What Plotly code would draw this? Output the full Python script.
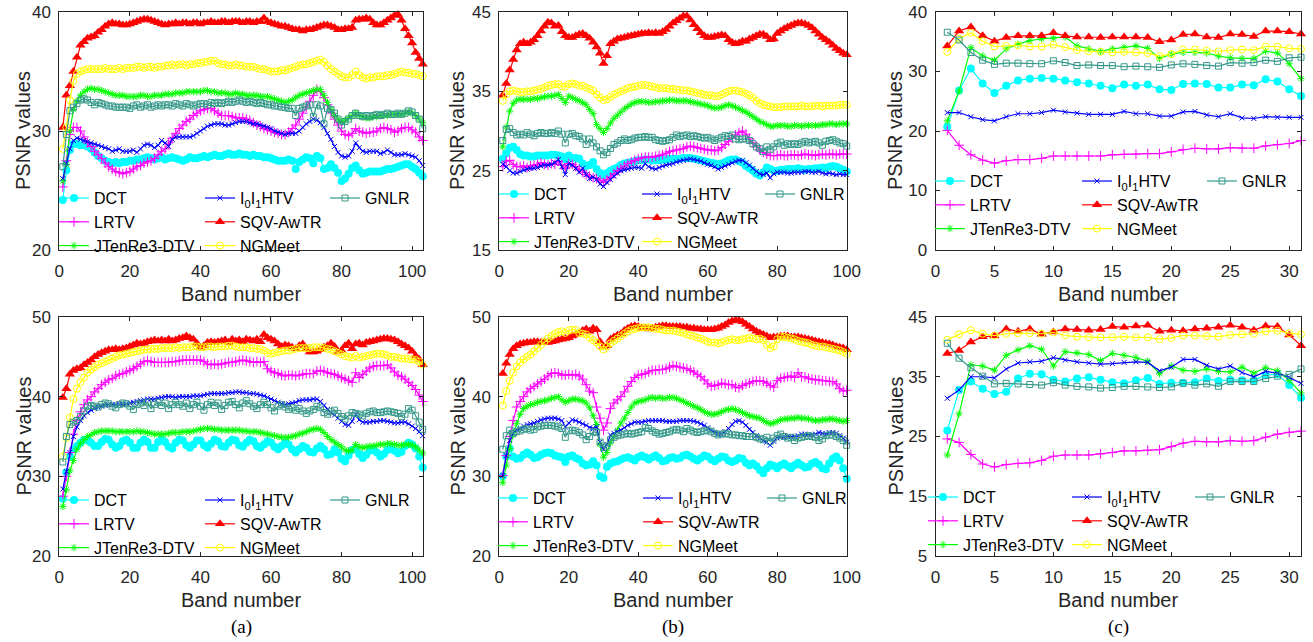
import plotly.graph_objects as go

W, H = 1313, 642

# ---------------- data (PSNR per band) ----------------
bands_103 = list(range(1, 104))
bands_100 = list(range(1, 101))
bands_31 = list(range(1, 32))

# panel (a) top
a1_dct = [24.2, 26.7, 28.4, 28.9, 28.9, 28.8, 28.8, 28.7, 28.5, 28.2,
          27.9, 27.7, 27.5, 27.4, 27.3, 27.4, 27.3, 27.4, 27.4, 27.5,
          27.5, 27.6, 27.6, 27.7, 27.8, 27.7, 27.6, 27.7, 27.8, 27.6,
          27.7, 27.8, 27.7, 27.6, 27.5, 27.6, 27.8, 27.7, 27.7, 27.8,
          27.9, 27.8, 27.9, 28.0, 27.9, 27.9, 28.0, 28.1, 28.0, 28.0,
          28.1, 28.0, 28.0, 27.9, 28.0, 27.9, 27.9, 27.8, 27.8, 27.7,
          27.6, 27.5, 27.5, 27.5, 27.6, 27.5, 26.8, 27.4, 27.6, 27.8,
          27.7, 27.3, 27.9, 27.7, 26.8, 26.9, 27.2, 26.9, 26.5, 25.8,
          26.0, 26.4, 26.9, 27.1, 26.7, 26.4, 26.5, 26.6, 26.6, 26.6,
          26.6, 26.7, 26.8, 26.8, 26.9, 27.0, 27.1, 27.2, 27.2, 27.0,
          26.8, 26.5, 26.2]
a1_lrtv = [25.3, 27.5, 29.7, 30.3, 30.3, 30.0, 29.5, 29.0, 28.7, 28.3,
           28.0, 27.7, 27.3, 27.0, 26.8, 26.6, 26.5, 26.4, 26.5, 26.6,
           26.8, 27.0, 27.1, 27.3, 27.4, 27.5, 27.7, 28.0, 28.3, 28.5,
           29.0, 29.4, 29.8, 30.2, 30.5, 30.8, 31.0, 31.3, 31.5, 31.7,
           31.8, 31.9, 31.9, 31.7, 31.5, 31.3, 31.3, 31.3, 31.2, 31.1,
           31.1, 31.1, 31.0, 30.9, 30.7, 30.5, 30.4, 30.2, 30.1, 30.0,
           29.9, 29.8, 29.7, 29.7, 29.9, 30.2, 30.5, 31.0, 31.5, 32.0,
           32.5, 33.0, 33.5, 33.3, 32.8, 32.2, 31.5, 31.0, 30.5, 30.0,
           29.7, 29.6, 29.8, 30.2, 30.0, 29.9, 29.8, 29.9, 29.9, 30.0,
           30.2, 30.3, 30.2, 30.1, 29.9, 30.0, 30.2, 30.3, 30.3, 30.1,
           29.9, 29.5, 29.2]
a1_jt = [25.8, 27.2, 30.0, 31.8, 32.5, 33.0, 33.3, 33.5, 33.6, 33.5,
         33.5, 33.4, 33.3, 33.2, 33.1, 33.0, 33.0, 33.0, 32.9, 32.9,
         32.9, 32.9, 33.0, 33.0, 32.9, 32.9, 33.0, 33.0, 33.0, 33.1,
         33.1, 33.1, 33.2, 33.2, 33.2, 33.3, 33.3, 33.3, 33.3, 33.3,
         33.4, 33.4, 33.3, 33.3, 33.2, 33.2, 33.2, 33.1, 33.1, 33.2,
         33.1, 33.1, 33.0, 33.0, 33.0, 33.0, 32.9, 32.9, 32.9, 32.8,
         32.7, 32.6, 32.5, 32.4, 32.5, 32.6, 32.8, 33.0, 33.1, 33.2,
         33.3, 33.4, 33.5, 33.5, 33.0, 32.4, 31.8, 31.3, 31.0, 30.8,
         30.9, 31.1, 31.3, 31.5, 31.3, 31.2, 31.1, 31.1, 31.2, 31.2,
         31.3, 31.3, 31.3, 31.4, 31.4, 31.4, 31.4, 31.5, 31.6, 31.5,
         31.3, 31.0, 30.7]
a1_htv = [26.0, 27.3, 28.5, 29.2, 29.4, 29.3, 29.2, 29.1, 29.0, 28.9,
          28.8, 28.7, 28.6, 28.5, 28.3, 28.4, 28.5, 28.3, 28.3, 28.3,
          28.4, 28.2, 28.5, 28.8, 28.9, 28.8, 28.6, 28.8, 29.2, 29.0,
          28.7, 29.3, 29.5, 29.5, 29.5, 29.5, 29.5, 29.6, 29.8, 30.0,
          30.2, 30.4, 30.5, 30.6, 30.6, 30.6, 30.5, 30.5, 30.6, 30.7,
          30.8, 30.8, 30.8, 30.7, 30.6, 30.6, 30.5, 30.4, 30.3, 30.2,
          30.0, 29.9, 29.8, 29.7, 29.8, 29.8, 29.8, 30.0, 30.3, 30.6,
          30.8, 31.0, 30.9, 30.7, 30.3, 29.8, 29.3, 28.7, 28.2, 27.9,
          27.8, 27.9, 28.3, 29.0, 28.6, 28.3, 28.2, 28.3, 28.3, 28.3,
          28.1, 28.2, 28.4, 28.2, 28.0, 28.0, 28.0, 28.1, 28.0, 27.9,
          27.8, 27.5, 27.1]
a1_sqv = [30.3, 33.0, 33.8, 35.0, 36.2, 37.2, 37.5, 37.8, 37.9, 38.0,
          38.3, 38.5, 38.8, 39.0, 39.1, 39.0, 39.0, 38.9, 38.9, 39.0,
          39.1, 39.2, 39.3, 39.4, 39.4, 39.3, 39.2, 39.1, 39.0, 38.9,
          39.0, 39.0, 39.1, 39.0, 39.1, 39.1, 39.0, 39.1, 39.1, 39.0,
          39.1, 39.1, 39.2, 39.1, 39.1, 39.2, 39.2, 39.1, 39.2, 39.2,
          39.2, 39.1, 39.2, 39.2, 39.1, 39.2, 39.2, 39.5, 39.2, 39.1,
          39.0, 38.9, 38.8, 38.8, 38.7, 38.6, 38.5, 38.5, 38.4, 38.5,
          38.5, 38.6, 38.7, 38.8, 38.9, 38.9, 38.8, 38.7, 38.5, 38.5,
          38.6, 38.6, 38.7, 39.3, 39.4, 39.4, 39.5, 39.4, 39.1, 38.9,
          38.9, 39.1, 39.3, 39.5, 39.7, 39.8, 39.3, 38.6, 38.0, 37.4,
          36.6, 36.1, 35.6]
a1_ngm = [28.5, 30.3, 32.6, 34.2, 34.8, 35.0, 35.1, 35.2, 35.2, 35.2,
          35.2, 35.2, 35.3, 35.2, 35.2, 35.2, 35.3, 35.2, 35.3, 35.3,
          35.3, 35.4, 35.4, 35.3, 35.4, 35.4, 35.3, 35.4, 35.4, 35.5,
          35.5, 35.6, 35.5, 35.6, 35.6, 35.5, 35.6, 35.6, 35.7, 35.7,
          35.8, 35.8, 35.9, 35.9, 35.7, 35.6, 35.6, 35.5, 35.5, 35.6,
          35.5, 35.5, 35.4, 35.4, 35.4, 35.3, 35.2, 35.2, 35.1, 35.0,
          35.0, 35.0, 35.1, 35.1, 35.2, 35.3, 35.4, 35.5, 35.6, 35.6,
          35.7, 35.8, 35.9, 36.0, 35.8, 35.5, 35.2, 35.0, 34.8, 34.6,
          34.5, 34.5, 34.7, 35.0, 34.7, 34.5, 34.4, 34.5, 34.5, 34.6,
          34.6, 34.6, 34.7, 34.7, 34.8, 34.9, 35.0, 34.9, 34.9, 34.8,
          34.8, 34.7, 34.6]
a1_gnlr = [27.0, 29.7, 31.7, 32.0, 32.3, 32.6, 32.7, 32.6, 32.4, 32.2,
           32.4, 32.3, 32.2, 32.1, 32.1, 32.0, 32.0, 32.0, 32.0, 31.9,
           32.1, 32.2, 32.0, 32.1, 32.2, 32.0, 32.1, 32.2, 32.1, 32.2,
           32.2, 32.1, 32.3, 32.2, 32.1, 32.3, 32.2, 32.1, 32.2, 32.3,
           32.3, 32.2, 32.4, 32.3, 32.4, 32.3, 32.4, 32.5, 32.4, 32.5,
           32.6, 32.5, 32.4, 32.5, 32.4, 32.3, 32.4, 32.3, 32.2, 32.2,
           32.1, 32.1, 32.0, 32.0, 31.9, 31.9, 31.3, 31.9, 32.0, 32.1,
           32.2, 31.2, 32.2, 32.1, 30.6, 31.9, 31.8, 31.5, 31.0, 30.5,
           30.8, 31.0, 31.3, 31.5, 31.3, 31.2, 31.3, 31.2, 31.3, 31.4,
           31.3, 31.4, 31.5, 31.4, 31.4, 31.5, 31.4, 31.5, 31.7, 31.6,
           31.3, 31.0, 30.2]

# panel (b) top
b1_dct = [26.5, 27.2, 27.9, 28.0, 27.6, 27.1, 26.9, 26.9, 26.8, 26.8,
          26.9, 26.9, 26.9, 26.9, 27.0, 27.0, 26.9, 26.8, 26.4, 26.9,
          26.6, 26.6, 26.5, 25.9, 25.6, 25.7, 26.1, 25.2, 24.7, 24.4,
          24.7, 25.0, 25.2, 25.4, 25.7, 25.9, 26.0, 26.1, 26.2, 26.3,
          26.3, 26.4, 26.4, 26.3, 26.3, 26.3, 26.4, 26.4, 26.5, 26.5,
          26.5, 26.5, 26.6, 26.6, 26.6, 26.5, 26.4, 26.3, 26.2, 26.1,
          26.0, 25.9, 25.8, 25.9, 26.1, 26.3, 26.4, 26.4, 26.2, 26.0,
          25.6, 25.3, 25.0, 24.6, 24.4, 24.8, 25.4, 25.2, 25.0, 25.0,
          25.1, 25.1, 25.2, 25.2, 25.2, 25.3, 25.2, 25.1, 25.2, 25.2,
          25.3, 25.3, 25.4, 25.3, 25.5, 25.6, 25.5, 25.3, 25.1, 24.9]
b1_lrtv = [25.5, 26.2, 26.3, 25.8, 25.5, 25.5, 25.6, 25.4, 25.6, 25.7,
           25.8, 26.0, 25.8, 25.7, 25.9, 25.8, 26.2, 25.7, 25.3, 25.9,
           25.8, 25.5, 25.2, 24.8, 24.5, 24.3, 24.1, 24.0, 23.8, 23.5,
           23.9, 24.2, 24.6, 25.0, 25.3, 25.6, 25.9, 26.1, 26.3, 26.5,
           26.6, 26.7, 26.7, 26.7, 26.8, 26.9, 27.0, 27.2, 27.4, 27.5,
           27.6, 27.7, 27.8, 28.0, 28.1, 28.0, 27.9, 27.8, 27.7, 27.6,
           27.6, 27.5, 27.6, 27.9, 28.3, 28.7, 29.1, 29.5, 29.8, 30.0,
           29.6, 29.0, 28.5, 28.0, 27.6, 27.3, 27.1, 26.9, 26.9, 26.9,
           27.0, 26.9, 26.9, 27.0, 27.0, 26.9, 27.0, 27.1, 27.0, 27.0,
           26.9, 27.0, 27.1, 27.0, 27.1, 27.1, 27.0, 27.1, 27.1, 27.1]
b1_jt = [28.0, 30.5, 32.5, 33.5, 33.9, 34.0, 34.0, 34.0, 34.0, 34.1,
         34.1, 34.2, 34.3, 34.4, 34.4, 34.5, 34.6, 34.1, 33.6, 34.4,
         34.2, 34.0, 33.8, 33.6, 33.3, 32.7, 32.2, 30.8, 30.3, 29.8,
         30.3, 31.0, 31.6, 32.0, 32.4, 32.8, 33.1, 33.4, 33.6, 33.7,
         33.7, 33.7, 33.6, 33.6, 33.7, 33.7, 33.8, 33.8, 33.9, 33.9,
         33.8, 33.8, 33.8, 33.8, 33.7, 33.6, 33.5, 33.4, 33.3, 33.2,
         33.0, 32.9, 32.9, 33.0, 33.2, 33.3, 33.2, 33.0, 32.8, 32.6,
         32.4, 32.1, 31.8, 31.5, 31.2, 31.0, 30.8, 30.6, 30.6, 30.7,
         30.7, 30.7, 30.6, 30.6, 30.7, 30.7, 30.6, 30.7, 30.7, 30.7,
         30.7, 30.7, 30.8, 30.8, 30.9, 30.9, 30.8, 30.9, 30.9, 30.9]
b1_htv = [25.8, 25.5, 25.0, 24.7, 24.7, 24.9, 25.1, 25.2, 25.3, 25.3,
          25.4, 25.6, 25.7, 25.7, 25.8, 26.0, 26.4, 25.5, 24.5, 25.9,
          25.7, 25.3, 24.8, 25.3, 24.5, 24.0, 24.2, 23.9, 23.3, 23.0,
          23.5, 23.9, 24.3, 24.7, 25.0, 25.1, 25.2, 25.3, 25.4, 25.4,
          25.3, 25.9, 25.5, 25.3, 25.2, 25.4, 25.6, 25.7, 25.8, 25.9,
          26.1, 26.2, 26.3, 26.4, 26.5, 26.4, 26.3, 26.2, 26.0, 25.8,
          25.7, 25.5, 25.2, 25.4, 25.6, 25.8, 26.0, 26.2, 26.3, 26.3,
          26.0, 25.7, 25.3, 24.9, 24.6, 24.5, 24.7, 24.1, 24.6, 24.8,
          24.8, 24.8, 24.7, 24.7, 24.8, 24.8, 24.8, 24.9, 24.9, 24.8,
          24.8, 24.9, 24.7, 24.6, 24.7, 24.6, 24.5, 24.6, 24.5, 24.5]
b1_sqv = [34.5, 36.0, 37.7, 39.0, 40.2, 41.0, 41.2, 41.0, 41.2, 41.5,
          42.0, 42.6, 43.2, 43.7, 43.6, 43.2, 43.3, 42.5, 42.0, 41.8,
          41.8, 42.0, 42.2, 42.3, 42.0, 41.7, 41.2, 40.6, 39.8, 38.5,
          39.5, 41.0, 41.3, 41.6, 41.7, 41.8, 41.9, 42.0, 42.1, 42.2,
          42.3, 42.3, 42.4, 42.3, 42.4, 42.3, 42.5, 42.8, 43.2, 43.6,
          43.9, 44.2, 44.5, 44.5, 44.0, 43.4, 42.9, 42.4, 42.0, 41.8,
          41.8, 41.9, 42.0, 42.1, 42.0, 41.5, 41.2, 41.0, 41.1, 41.3,
          41.3, 41.6, 41.8, 42.0, 42.2, 42.2, 41.9, 41.5, 41.6, 42.3,
          42.6, 42.9, 43.1, 43.3, 43.5, 43.6, 43.6, 43.5, 43.3, 43.0,
          42.6, 42.2, 41.8, 41.5, 41.2, 40.8, 40.4, 40.1, 39.8, 39.6]
b1_ngm = [33.8, 34.6, 35.0, 35.1, 35.0, 34.9, 34.9, 35.0, 35.0, 35.1,
          35.2, 35.3, 35.5, 35.7, 35.8, 35.9, 35.9, 35.6, 35.6, 35.9,
          36.0, 35.9, 35.7, 35.7, 35.5, 35.3, 35.1, 34.6, 34.2, 33.9,
          34.0, 34.3, 34.6, 34.8, 35.0, 35.2, 35.4, 35.5, 35.6, 35.7,
          35.8, 35.8, 35.7, 35.6, 35.5, 35.4, 35.4, 35.4, 35.3, 35.3,
          35.2, 35.2, 35.1, 35.1, 35.0, 34.9, 34.8, 34.7, 34.6, 34.5,
          34.5, 34.4, 34.4, 34.6, 34.8, 35.0, 35.1, 35.1, 35.0, 34.9,
          34.7, 34.5, 34.2, 33.8, 33.5, 33.3, 33.2, 33.1, 33.0, 33.0,
          33.0, 33.1, 33.1, 33.1, 33.1, 33.1, 33.2, 33.1, 33.1, 33.1,
          33.2, 33.2, 33.1, 33.2, 33.2, 33.2, 33.2, 33.3, 33.3, 33.3]
b1_gnlr = [28.8, 30.2, 30.3, 29.8, 29.5, 29.6, 29.5, 29.8, 29.6, 29.4,
           29.7, 29.8, 29.7, 29.7, 29.8, 29.7, 30.0, 29.6, 28.5, 29.6,
           29.7, 29.4, 29.3, 29.0, 28.3, 29.0, 28.5, 28.0, 27.5, 27.0,
           27.3, 27.8, 28.3, 28.5, 28.8, 29.0, 28.8, 28.9, 29.1, 29.2,
           29.2, 29.3, 29.2, 29.2, 28.9, 28.8, 28.7, 28.8, 28.9, 29.2,
           29.5, 29.3, 29.4, 29.5, 29.3, 29.4, 29.3, 29.2, 29.1, 29.2,
           29.0, 28.8, 29.0, 29.2, 29.4, 29.3, 29.5, 29.0, 28.9, 29.0,
           29.0, 28.8, 28.4, 28.0, 27.8, 27.4, 28.0, 27.7, 28.0, 28.4,
           28.6, 28.2, 28.4, 28.3, 28.4, 28.3, 28.5, 28.7, 28.5, 28.6,
           28.7, 28.5, 28.2, 28.7, 28.8, 28.9, 28.7, 28.5, 28.4, 28.1]

# panel (c) top
c1_dct = [20.7, 26.8, 30.5, 28.0, 26.4, 27.6, 28.5, 28.8, 28.9, 28.8, 28.5, 28.2, 28.0, 27.6, 27.2, 27.8,
          27.6, 27.8, 27.0, 26.9, 27.9, 28.0, 27.9, 27.3, 27.3, 27.8, 27.7, 28.7, 28.3, 27.0, 25.9]
c1_lrtv = [20.1, 17.6, 16.0, 15.1, 14.6, 15.0, 15.2, 15.2, 15.4, 15.8, 15.8, 15.8, 15.8, 15.8, 16.0, 16.1,
           16.1, 16.2, 16.2, 16.5, 16.9, 17.1, 17.0, 17.0, 17.2, 17.1, 17.1, 17.5, 17.7, 17.9, 18.4]
c1_jt = [21.7, 26.7, 34.0, 32.6, 31.9, 33.8, 34.6, 35.2, 35.5, 35.6, 35.8, 34.3, 33.8, 33.4, 33.8, 34.1,
         34.3, 33.9, 32.2, 32.9, 33.2, 33.2, 33.1, 32.6, 32.3, 32.2, 32.2, 33.4, 33.1, 31.3, 28.8]
c1_htv = [23.1, 23.1, 22.4, 21.9, 21.7, 22.4, 22.9, 22.9, 23.1, 23.5, 23.2, 23.0, 22.8, 22.8, 22.8, 23.3,
          22.9, 22.9, 22.5, 22.5, 23.2, 23.3, 22.7, 22.4, 22.9, 22.2, 22.1, 22.4, 22.3, 22.3, 22.3]
c1_sqv = [34.3, 36.8, 37.5, 36.0, 35.1, 35.7, 36.0, 36.0, 36.0, 36.5, 36.0, 35.8, 35.8, 35.7, 35.8, 35.8,
          35.8, 35.7, 35.0, 35.3, 36.2, 36.3, 35.8, 35.7, 36.3, 36.2, 35.9, 36.8, 36.8, 36.7, 36.3]
c1_ngm = [33.3, 35.5, 36.5, 35.1, 34.2, 34.3, 34.4, 34.2, 34.2, 34.5, 34.1, 33.6, 33.4, 33.3, 33.2, 33.3,
          33.2, 33.1, 32.6, 32.9, 33.7, 33.7, 33.5, 33.4, 33.6, 33.7, 33.6, 34.2, 34.2, 33.9, 33.8]
c1_gnlr = [36.6, 35.3, 33.2, 31.9, 31.2, 31.4, 31.4, 31.3, 31.3, 31.8, 31.5, 31.0, 31.1, 31.0, 31.0, 30.8,
           30.9, 30.8, 30.7, 31.1, 31.3, 31.2, 31.0, 30.9, 31.5, 31.4, 31.5, 31.9, 31.7, 32.3, 32.4]

# panel (a) bottom
a2_dct = [27.2, 30.5, 32.5, 33.4, 33.8, 34.2, 34.6, 34.5, 34.2, 33.8,
          33.8, 34.3, 34.7, 34.6, 34.0, 33.6, 33.8, 34.4, 34.6, 34.2,
          33.6, 33.6, 34.2, 34.6, 34.3, 33.6, 33.6, 34.3, 34.6, 34.3,
          33.7, 33.5, 34.2, 34.6, 34.5, 33.9, 33.6, 34.0, 34.5, 34.5,
          33.9, 33.6, 34.1, 34.6, 34.4, 33.8, 33.7, 34.2, 34.6, 34.5,
          33.9, 33.7, 34.2, 34.6, 34.4, 33.8, 33.6, 34.0, 34.4, 34.2,
          33.7, 33.4, 33.8, 34.2, 34.0, 33.4, 33.0, 33.4, 33.8, 33.6,
          33.1, 33.0, 33.5, 33.8, 33.4, 32.7, 32.8, 33.4, 33.0, 32.2,
          31.9, 32.6, 33.3, 33.5, 32.8, 32.3, 32.7, 33.2, 33.4, 33.0,
          32.5, 32.8, 33.3, 33.5, 33.2, 32.9, 33.1, 33.8, 34.2, 34.0,
          33.5, 32.5, 31.1]
a2_lrtv = [27.5, 30.0, 33.0, 35.3, 37.0, 38.1, 39.0, 39.6, 40.0, 40.6,
           41.0, 41.5, 41.8, 42.1, 42.3, 42.6, 42.8, 42.9, 43.1, 43.3,
           43.5, 43.8, 44.1, 44.4, 44.5, 44.4, 44.3, 44.3, 44.3, 44.3,
           44.3, 44.4, 44.4, 44.5, 44.6, 44.6, 44.6, 44.6, 44.6, 44.6,
           44.4, 44.1, 44.0, 44.1, 44.0, 44.1, 44.2, 44.3, 44.3, 44.4,
           44.5, 44.6, 44.5, 44.4, 44.3, 44.4, 44.3, 44.4, 43.5, 43.2,
           43.0, 42.9, 42.7, 42.6, 42.7, 42.7, 42.6, 42.7, 42.8, 42.9,
           42.9, 42.9, 43.2, 43.3, 43.2, 43.0, 42.9, 42.8, 42.6, 42.4,
           42.2, 42.0, 41.8, 43.0, 42.4, 42.8, 43.2, 43.6, 43.8, 43.9,
           43.9, 43.9, 44.0, 43.6, 43.1, 42.7, 42.5, 42.2, 41.8, 41.4,
           40.9, 40.2, 39.4]
a2_jt = [26.2, 28.3, 30.7, 32.0, 33.4, 34.1, 34.6, 35.0, 35.2, 35.5,
         35.6, 35.7, 35.7, 35.7, 35.7, 35.6, 35.6, 35.6, 35.6, 35.6,
         35.6, 35.7, 35.6, 35.6, 35.5, 35.4, 35.3, 35.3, 35.3, 35.3,
         35.4, 35.5, 35.5, 35.5, 35.6, 35.6, 35.6, 35.7, 35.8, 35.9,
         36.0, 36.0, 36.0, 35.9, 35.9, 35.8, 35.8, 35.8, 35.8, 35.8,
         35.8, 35.7, 35.7, 35.6, 35.6, 35.6, 35.5, 35.4, 35.3, 35.2,
         35.1, 35.0, 34.9, 34.9, 34.9, 35.0, 35.1, 35.3, 35.4, 35.6,
         35.8, 35.9, 36.0, 35.9, 35.5, 35.0, 34.6, 34.3, 34.0, 33.7,
         33.3, 33.2, 33.3, 34.0, 33.7, 33.6, 33.7, 33.8, 33.8, 33.9,
         34.0, 34.0, 34.1, 34.1, 34.0, 33.9, 33.9, 34.0, 34.0, 33.9,
         33.7, 33.3, 32.9]
a2_htv = [28.4, 30.6, 33.0, 35.0, 36.2, 37.0, 37.6, 38.0, 38.3, 38.5,
          38.7, 38.8, 38.9, 39.0, 39.0, 39.0, 39.0, 39.0, 39.1, 39.2,
          39.3, 39.4, 39.5, 39.6, 39.7, 39.7, 39.7, 39.8, 39.9, 40.0,
          40.0, 40.0, 39.9, 40.0, 40.0, 40.0, 40.0, 40.1, 40.1, 40.1,
          40.2, 40.3, 40.4, 40.4, 40.4, 40.4, 40.4, 40.5, 40.5, 40.6,
          40.6, 40.5, 40.5, 40.4, 40.4, 40.3, 40.2, 40.1, 39.9, 39.7,
          39.5, 39.3, 39.1, 39.0, 39.1, 39.2, 39.3, 39.5, 39.6, 39.6,
          39.6, 39.7, 39.7, 39.4, 38.9, 38.4, 38.0, 37.7, 37.3, 36.9,
          36.5, 36.4, 36.9, 37.8, 37.1, 36.8, 36.8, 36.8, 36.9, 36.9,
          37.0, 37.0, 36.9, 36.8, 36.7, 36.7, 36.8, 36.8, 36.6, 36.3,
          36.0, 35.6, 35.1]
a2_sqv = [39.9, 41.0, 42.8, 43.3, 43.5, 43.6, 44.0, 44.3, 44.6, 45.0,
          45.3, 45.5, 45.7, 45.9, 45.9, 46.0, 45.9, 46.0, 46.1, 46.3,
          46.5, 46.7, 46.6, 46.7, 46.9, 47.0, 47.1, 47.0, 47.1, 47.0,
          47.2, 47.0, 47.1, 47.3, 47.4, 47.6, 47.4, 47.2, 46.7, 46.2,
          46.4, 46.8, 46.9, 46.8, 46.9, 47.0, 47.1, 46.8, 47.2, 47.0,
          47.1, 46.9, 47.2, 47.1, 47.0, 47.2, 46.9, 47.8, 47.4, 47.2,
          47.0, 46.6, 46.3, 46.5, 46.4, 46.2, 46.0, 46.4, 46.6, 46.0,
          45.6, 45.6, 45.7, 45.9, 46.2, 46.4, 46.7, 46.3, 45.6, 45.8,
          46.4, 46.7, 46.0, 46.6, 46.7, 46.5, 46.8, 46.9, 47.0, 47.1,
          47.2, 47.3, 47.3, 47.2, 47.1, 46.9, 46.6, 46.4, 46.1, 45.7,
          45.1, 44.7, 44.0]
a2_ngm = [32.5, 34.8, 37.4, 39.7, 41.0, 41.8, 42.4, 43.0, 43.4, 43.7,
          44.0, 44.2, 44.4, 44.6, 44.8, 45.0, 45.2, 45.3, 45.4, 45.5,
          45.6, 45.7, 45.8, 45.9, 45.9, 46.0, 46.0, 46.0, 46.1, 46.1,
          46.1, 46.1, 46.2, 46.1, 46.2, 46.2, 46.2, 46.3, 46.3, 46.2,
          46.2, 46.3, 46.3, 46.2, 46.3, 46.3, 46.3, 46.4, 46.4, 46.3,
          46.2, 46.2, 46.2, 46.1, 46.1, 46.0, 46.0, 45.8, 45.5, 45.4,
          45.5, 45.6, 45.7, 45.8, 45.8, 45.9, 46.0, 46.1, 46.1, 46.1,
          46.1, 46.2, 46.2, 46.2, 46.1, 46.0, 45.9, 45.7, 45.5, 45.3,
          45.1, 45.0, 44.9, 45.1, 44.9, 45.0, 45.1, 45.2, 45.3, 45.4,
          45.4, 45.3, 45.2, 45.0, 45.0, 44.9, 44.8, 44.8, 44.7, 44.7,
          44.6, 44.4, 44.0]
a2_gnlr = [31.8, 35.0, 36.5, 36.8, 37.0, 37.5, 38.2, 38.8, 38.9, 38.8,
           38.7, 39.0, 39.2, 39.1, 38.8, 38.6, 39.0, 39.2, 39.1, 38.8,
           38.4, 39.0, 39.2, 38.9, 39.3, 38.5, 39.0, 39.3, 38.9, 39.2,
           38.5, 39.0, 39.3, 39.0, 38.8, 39.2, 38.5, 39.0, 39.3, 38.8,
           38.3, 39.0, 39.3, 38.9, 39.2, 38.4, 38.9, 39.3, 39.4, 39.0,
           38.6, 39.2, 39.5, 39.1, 38.8, 38.5, 39.0, 39.3, 39.0, 38.6,
           38.2, 38.8, 39.0, 38.7, 38.4, 38.6, 38.3, 38.5, 38.2, 37.9,
           38.2, 38.4, 38.8, 38.6, 38.0, 37.8, 38.1, 38.3, 37.9, 37.5,
           37.2, 37.6, 38.0, 37.9, 37.8, 37.6, 37.9, 38.1, 38.2, 38.0,
           38.0, 38.1, 38.2, 38.1, 38.0, 37.9, 37.5, 37.8, 38.5, 38.3,
           37.6, 36.8, 35.9]

# panel (b) bottom
b2_dct = [30.0, 32.5, 33.5, 32.5, 32.2, 32.3, 32.7, 33.0, 32.7, 32.3,
          32.4, 32.7, 32.9, 33.0, 32.9, 32.6, 32.5, 32.4, 31.8, 32.5,
          32.6, 32.3, 32.1, 31.6, 31.4, 31.5, 31.9, 31.4, 30.0, 29.8,
          31.2, 31.6, 31.8, 31.9, 32.1, 32.3, 32.4, 32.2, 32.0, 32.4,
          32.6, 32.4, 32.1, 32.4, 32.6, 32.3, 31.9, 32.0, 32.3, 32.4,
          32.2, 32.3, 32.6, 32.7, 32.5, 32.2, 32.0, 32.3, 32.6, 32.5,
          32.1, 31.9, 32.2, 32.5, 32.4, 32.0, 31.8, 32.0, 32.3, 32.2,
          31.7, 31.4, 31.6, 31.3, 30.8, 30.4, 31.0, 31.5, 31.3, 31.0,
          31.4, 31.6, 31.3, 31.0, 31.4, 31.7, 31.4, 31.1, 31.2, 31.6,
          31.8, 31.5, 31.0, 30.9, 31.6, 32.2, 32.5, 32.0, 31.0, 29.7]
b2_lrtv = [30.1, 32.6, 35.0, 37.0, 38.7, 39.4, 40.0, 40.6, 41.0, 41.3,
           41.6, 41.9, 42.2, 42.6, 42.9, 43.0, 42.9, 42.7, 42.7, 42.8,
           42.7, 42.8, 42.6, 42.2, 41.5, 40.7, 40.5, 38.7, 37.3, 35.8,
           36.7, 38.5, 39.2, 39.6, 40.0, 40.6, 41.3, 41.9, 42.4, 42.7,
           42.8, 42.9, 43.1, 43.3, 43.3, 43.4, 43.4, 43.5, 43.7, 43.9,
           43.8, 43.7, 43.6, 43.5, 43.3, 43.1, 42.8, 42.5, 42.1, 41.6,
           41.3, 41.4, 41.5, 41.7, 41.6, 41.5, 41.5, 41.2, 41.1, 41.4,
           41.6, 41.7, 41.9, 42.0, 42.0, 41.9, 41.7, 41.4, 41.2, 42.0,
           42.3, 42.4, 42.5, 42.6, 42.4, 43.0, 42.5, 42.5, 42.3, 42.2,
           42.1, 42.1, 42.0, 42.0, 41.9, 41.9, 41.6, 41.0, 40.7, 40.8]
b2_jt = [29.2, 31.4, 33.5, 35.2, 36.6, 37.8, 38.5, 38.8, 39.0, 39.1,
         39.3, 39.4, 39.5, 39.6, 39.8, 39.9, 40.0, 39.6, 39.3, 39.5,
         39.7, 39.7, 39.6, 39.5, 39.2, 38.6, 37.6, 36.5, 34.0, 32.4,
         33.0, 34.2, 35.0, 35.8, 36.7, 37.3, 38.0, 38.7, 39.2, 39.4,
         39.5, 39.6, 39.8, 39.9, 39.8, 39.9, 39.8, 39.8, 39.9, 39.9,
         39.8, 39.6, 39.4, 39.2, 39.0, 38.8, 38.6, 38.4, 38.1, 37.9,
         37.8, 37.8, 37.9, 38.1, 38.3, 38.4, 38.5, 38.4, 38.2, 38.0,
         37.8, 37.6, 37.5, 37.4, 37.3, 37.0, 36.8, 36.6, 36.7, 36.9,
         37.1, 37.2, 37.2, 37.3, 37.3, 37.4, 37.3, 37.3, 37.2, 37.1,
         37.0, 37.0, 37.1, 37.1, 37.2, 37.2, 37.1, 37.0, 36.9, 37.0]
b2_htv = [30.1, 32.6, 34.5, 35.4, 35.8, 36.0, 36.3, 36.5, 36.6, 36.7,
          36.9, 37.1, 37.2, 37.3, 37.3, 37.3, 37.2, 37.0, 36.2, 36.7,
          37.1, 37.0, 36.8, 36.6, 36.4, 36.1, 36.0, 36.2, 34.3, 33.4,
          34.0, 35.2, 35.4, 35.6, 35.8, 36.1, 36.4, 36.6, 36.8, 36.8,
          36.8, 36.9, 37.0, 37.0, 37.0, 37.0, 37.0, 36.9, 36.9, 36.9,
          36.9, 37.0, 37.0, 37.0, 37.0, 36.9, 36.8, 36.6, 36.4, 36.1,
          35.8, 35.5, 35.3, 35.3, 35.6, 36.0, 36.5, 36.9, 37.0, 36.8,
          36.4, 35.9, 35.5, 35.1, 34.8, 34.5, 34.3, 33.9, 34.4, 34.8,
          34.9, 34.9, 35.0, 35.0, 35.0, 35.1, 35.3, 35.3, 35.2, 35.2,
          35.3, 35.5, 35.4, 35.3, 35.5, 35.5, 35.4, 35.1, 34.8, 34.3]
b2_sqv = [42.9, 44.2, 45.3, 46.0, 46.4, 46.6, 46.7, 46.8, 46.8, 46.9,
          46.9, 46.8, 46.8, 46.8, 46.9, 47.0, 47.1, 47.2, 47.3, 47.4,
          47.6, 47.8, 48.0, 48.3, 48.5, 48.2, 48.6, 48.4, 46.9, 46.3,
          46.4, 47.2, 47.5, 47.7, 47.9, 48.3, 48.6, 48.8, 48.9, 48.8,
          48.6, 48.6, 48.5, 48.6, 48.7, 48.8, 48.9, 48.9, 48.8, 48.8,
          48.8, 48.8, 48.7, 48.7, 48.6, 48.6, 48.5, 48.5, 48.4, 48.4,
          48.4, 48.5, 48.6, 48.8, 49.0, 49.3, 49.5, 49.6, 49.6, 49.4,
          49.1, 48.8, 48.5, 48.2, 48.0, 47.8, 47.6, 47.4, 47.5, 47.5,
          47.6, 47.6, 47.6, 47.5, 47.5, 47.5, 47.4, 47.3, 47.2, 47.1,
          47.0, 46.9, 46.8, 46.7, 46.6, 46.5, 46.3, 46.2, 46.1, 45.9]
b2_ngm = [38.9, 40.7, 42.0, 43.0, 43.8, 44.3, 44.7, 45.0, 45.3, 45.7,
          46.1, 46.5, 46.9, 47.3, 47.6, 47.9, 48.1, 48.2, 48.0, 48.3,
          48.4, 48.4, 48.0, 47.9, 47.8, 47.4, 47.1, 46.8, 46.3, 45.9,
          46.3, 46.7, 47.0, 47.3, 47.6, 47.9, 48.2, 48.4, 48.5, 48.6,
          48.7, 48.7, 48.7, 48.6, 48.5, 48.5, 48.4, 48.3, 48.3, 48.3,
          48.2, 48.1, 48.0, 47.8, 47.7, 47.6, 47.4, 47.3, 47.1, 46.9,
          46.8, 46.8, 46.7, 46.8, 47.0, 47.1, 47.2, 47.1, 47.1, 47.2,
          47.3, 47.4, 47.3, 47.2, 47.3, 47.1, 46.5, 46.1, 46.3, 47.2,
          47.5, 47.5, 47.4, 47.3, 47.2, 47.0, 46.9, 46.8, 46.7, 46.5,
          46.4, 46.3, 46.3, 46.2, 46.1, 46.0, 45.9, 45.8, 45.6, 45.4]
b2_gnlr = [33.4, 35.1, 35.8, 35.4, 35.6, 35.7, 35.9, 36.0, 35.8, 35.9,
           36.2, 36.3, 36.4, 36.4, 36.4, 36.3, 36.2, 36.0, 34.9, 35.7,
           35.8, 35.7, 35.5, 35.2, 34.6, 35.0, 35.6, 35.5, 34.3, 33.6,
           33.8, 34.6, 34.9, 35.1, 35.2, 35.3, 35.4, 35.3, 35.4, 35.5,
           35.6, 36.1, 36.0, 35.7, 35.5, 35.3, 35.4, 35.5, 35.6, 35.8,
           35.9, 35.8, 35.6, 36.0, 35.8, 35.6, 35.5, 35.6, 35.7, 35.8,
           35.6, 35.4, 35.2, 35.3, 35.4, 35.3, 35.2, 35.2, 35.1, 35.1,
           35.0, 35.0, 35.0, 34.9, 34.7, 34.6, 34.9, 34.4, 34.8, 35.1,
           35.3, 35.0, 34.8, 34.9, 34.5, 34.8, 34.9, 35.0, 35.1, 35.0,
           34.9, 34.5, 34.7, 35.1, 35.2, 35.2, 35.0, 34.8, 34.5, 33.9]

# panel (c) bottom
c2_dct = [26.0, 32.8, 34.2, 33.0, 32.1, 32.5, 34.7, 35.5, 35.4, 34.5, 34.2, 34.7, 34.9, 34.5, 34.1, 33.9,
          34.4, 34.8, 33.8, 34.0, 34.0, 34.1, 34.7, 34.3, 34.5, 34.4, 34.4, 35.3, 35.4, 33.6, 31.5]
c2_lrtv = [24.6, 24.0, 22.0, 20.4, 19.9, 20.3, 20.5, 20.6, 21.0, 21.7, 21.9, 21.9, 21.9, 22.1, 22.3, 22.6,
           22.6, 22.7, 22.8, 23.3, 23.9, 24.2, 24.1, 24.1, 24.3, 24.2, 24.3, 24.9, 25.4, 25.7, 25.9]
c2_jt = [21.9, 28.8, 37.0, 36.8, 36.1, 38.6, 39.5, 40.2, 39.6, 36.8, 39.2, 39.0, 38.7, 37.7, 38.9, 38.6,
         38.2, 37.6, 35.5, 36.8, 36.1, 35.9, 36.3, 35.9, 35.8, 36.6, 35.6, 36.5, 36.0, 34.4, 32.3]
c2_htv = [31.4, 32.8, 35.0, 35.0, 34.8, 36.3, 37.3, 37.5, 37.6, 38.2, 37.8, 37.5, 37.3, 37.1, 37.2, 37.4,
          37.5, 37.4, 36.0, 36.6, 37.9, 37.9, 36.9, 36.3, 36.8, 35.7, 35.0, 35.9, 35.6, 34.9, 33.9]
c2_sqv = [38.9, 39.4, 40.8, 41.7, 41.8, 43.0, 42.6, 43.0, 42.1, 42.5, 43.0, 42.9, 42.8, 42.9, 43.4, 43.3,
          43.5, 43.6, 42.6, 42.8, 42.7, 43.0, 43.1, 43.3, 43.6, 43.3, 42.8, 43.5, 43.4, 42.0, 40.2]
c2_ngm = [41.2, 42.1, 42.8, 42.2, 41.9, 42.2, 42.3, 42.3, 42.2, 42.4, 41.9, 41.7, 41.6, 41.6, 41.6, 41.7,
          41.6, 41.6, 41.3, 41.5, 41.9, 41.9, 41.8, 41.7, 42.0, 42.1, 42.2, 42.6, 42.7, 42.3, 42.1]
c2_gnlr = [40.6, 38.1, 36.5, 35.1, 33.8, 33.9, 33.8, 33.7, 33.6, 34.0, 33.6, 33.4, 33.3, 33.1, 33.2, 33.4,
           33.4, 33.3, 33.2, 33.3, 33.9, 33.6, 33.8, 33.4, 34.2, 34.2, 34.2, 34.7, 35.1, 35.4, 36.3]

method_names = ["DCT", "LRTV", "JTenRe3-DTV", "I<sub>0</sub>I<sub>1</sub>HTV", "SQV-AwTR", "NGMeet", "GNLR"]
panel_labels = ["(a)", "(b)", "(c)"]
x_title = "Band number"
y_title = "PSNR values"

panels = [
    dict(x=bands_103, ys=[a1_dct, a1_lrtv, a1_jt, a1_htv, a1_sqv, a1_ngm, a1_gnlr], xr=[0, 103], yr=[20, 40], yt=[20, 30, 40], xd=20),
    dict(x=bands_100, ys=[b1_dct, b1_lrtv, b1_jt, b1_htv, b1_sqv, b1_ngm, b1_gnlr], xr=[0, 100], yr=[15, 45], yt=[15, 25, 35, 45], xd=20),
    dict(x=bands_31, ys=[c1_dct, c1_lrtv, c1_jt, c1_htv, c1_sqv, c1_ngm, c1_gnlr], xr=[0, 31], yr=[0, 40], yt=[0, 10, 20, 30, 40], xd=5),
    dict(x=bands_103, ys=[a2_dct, a2_lrtv, a2_jt, a2_htv, a2_sqv, a2_ngm, a2_gnlr], xr=[0, 103], yr=[20, 50], yt=[20, 30, 40, 50], xd=20),
    dict(x=bands_100, ys=[b2_dct, b2_lrtv, b2_jt, b2_htv, b2_sqv, b2_ngm, b2_gnlr], xr=[0, 100], yr=[20, 50], yt=[20, 30, 40, 50], xd=20),
    dict(x=bands_31, ys=[c2_dct, c2_lrtv, c2_jt, c2_htv, c2_sqv, c2_ngm, c2_gnlr], xr=[0, 31], yr=[5, 45], yt=[5, 15, 25, 35, 45], xd=5),
]

# ---------------- styling ----------------
styles = [
    dict(color="#00FFFF", symbol="circle", size=8, lw=0),
    dict(color="#FF00FF", symbol="cross-thin-open", size=7, lw=1),
    dict(color="#00FF00", symbol="asterisk-open", size=6, lw=1),
    dict(color="#0000FF", symbol="x-thin-open", size=5, lw=1),
    dict(color="#FF0000", symbol="triangle-up", size=9, lw=0),
    dict(color="#FFFF00", symbol="circle-open", size=7, lw=1),
    dict(color="#35998A", symbol="square-open", size=6, lw=1),
]
legend_col = [0, 0, 0, 1, 1, 1, 2]

# pixel geometry of the six axes boxes (left, right, top, bottom)
col_px = [(59.3, 422.7), (499.3, 846.7), (935.5, 1301.0)]
row_px = [(12.0, 250.0), (317.0, 556.0)]
ytitle_x = [23, 457, 895]          # centre of the rotated y titles, px
xtitle_y = [294, 600]              # centre of the x titles, px
label_y = 627                      # centre of (a)/(b)/(c), px
# legend column line-start x (px) and first-row centre y (px) per panel
leg_cols = [(59, 205, 330), (499, 642, 765), (935, 1082, 1207),
            (59, 205, 330), (498, 643, 767), (928, 1072, 1195)]
leg_row1 = [198, 194, 181, 500, 498, 497]

AX_COLOR = "#262626"
FONT = "Liberation Sans, Arial, Helvetica, sans-serif"

fig = go.Figure()
layout = dict(template="none", width=W, height=H, margin=dict(l=0, r=0, t=0, b=0, pad=0), autosize=False,
              paper_bgcolor="white", plot_bgcolor="white", showlegend=True,
              font=dict(family=FONT, color=AX_COLOR))
annotations = []

for p, pan in enumerate(panels):
    r, c = divmod(p, 3)
    n = p + 1
    xa = "x" if n == 1 else f"x{n}"
    ya = "y" if n == 1 else f"y{n}"
    for k, (yv, st) in enumerate(zip(pan["ys"], styles)):
        lid_num = p * 3 + legend_col[k] + 1
        lid = "legend" if lid_num == 1 else f"legend{lid_num}"
        fig.add_trace(go.Scatter(
            x=pan["x"], y=yv, name=method_names[k], mode="lines+markers",
            xaxis=xa, yaxis=ya, legend=lid, cliponaxis=False,
            line=dict(color=st["color"], width=1.2),
            marker=dict(symbol=st["symbol"], size=st["size"], color=st["color"],
                        line=dict(color=st["color"], width=st["lw"])),
            hoverinfo="skip"))
    l, rr = col_px[c]
    t, b = row_px[r]
    common = dict(showline=True, linecolor=AX_COLOR, linewidth=1, mirror="allticks",
                  ticks="inside", ticklen=4, tickcolor=AX_COLOR, showgrid=False, zeroline=False,
                  automargin=False,
                  tickfont=dict(family=FONT, size=17, color=AX_COLOR))
    layout["xaxis" if n == 1 else f"xaxis{n}"] = dict(
        domain=[l / W, rr / W], anchor=ya, range=pan["xr"], dtick=pan["xd"], tick0=0,
        ticklabelstandoff=6, **common)
    layout["yaxis" if n == 1 else f"yaxis{n}"] = dict(
        domain=[1 - b / H, 1 - t / H], anchor=xa, range=pan["yr"], tickvals=pan["yt"],
        ticklabelstandoff=4, **common)
    # axis titles
    annotations.append(dict(text=x_title, x=(l + rr) / 2 / W, y=1 - xtitle_y[r] / H,
                            xref="paper", yref="paper", showarrow=False,
                            xanchor="center", yanchor="middle",
                            font=dict(family=FONT, size=20, color=AX_COLOR)))
    annotations.append(dict(text=y_title, x=ytitle_x[c] / W, y=1 - (t + b) / 2 / H,
                            xref="paper", yref="paper", showarrow=False, textangle=-90,
                            xanchor="center", yanchor="middle",
                            font=dict(family=FONT, size=20, color=AX_COLOR)))
    # three legend columns per panel
    for j in range(3):
        lid_num = p * 3 + j + 1
        key = "legend" if lid_num == 1 else f"legend{lid_num}"
        layout[key] = dict(
            x=(leg_cols[p][j] - 5) / W, y=1 - (leg_row1[p] - 16.9) / H,
            xanchor="left", yanchor="top", xref="paper", yref="paper",
            bgcolor="rgba(0,0,0,0)", borderwidth=0, tracegroupgap=0,
            font=dict(family=FONT, size=16, color="#000000"), itemwidth=30)
    if r == 1:
        annotations.append(dict(text=panel_labels[c], x=(l + rr) / 2 / W, y=1 - label_y / H,
                                xref="paper", yref="paper", showarrow=False,
                                xanchor="center", yanchor="middle",
                                font=dict(family="Liberation Serif, Times New Roman, serif", size=19, color="#000000")))

layout["annotations"] = annotations
fig.update_layout(**layout)
fig.write_html("out.html", config={"displayModeBar": False},
               post_script="document.body.style.margin='0px';document.body.style.padding='0px';")
